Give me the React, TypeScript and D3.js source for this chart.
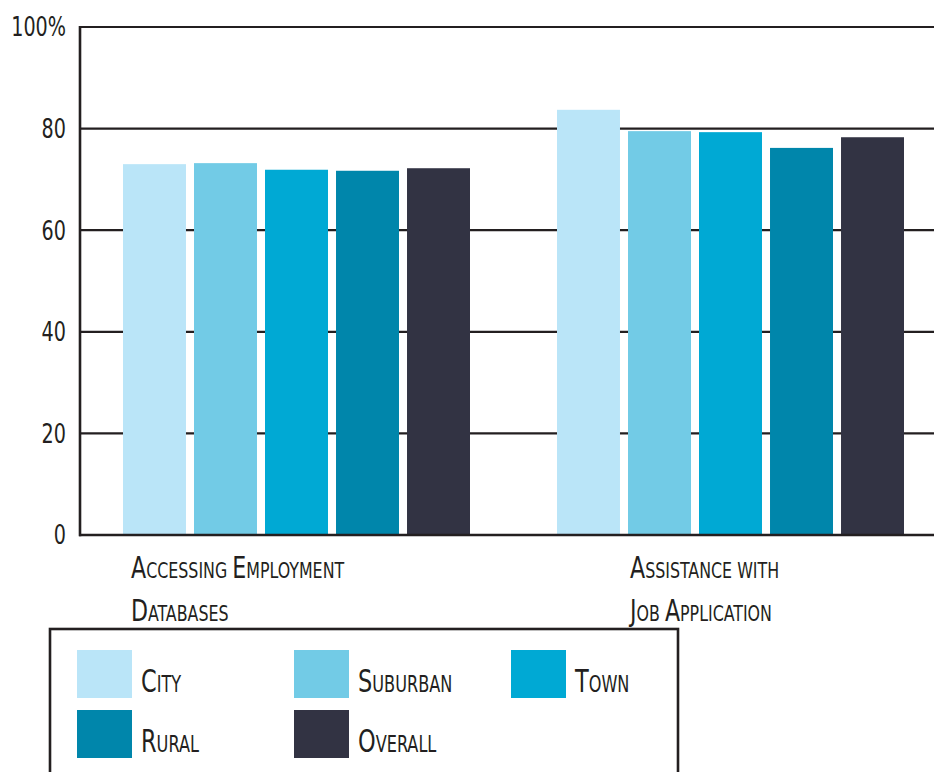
import React from "react";
import * as d3 from "d3";

const categories = ["Accessing Employment|Databases", "Assistance with|Job Application"];
const seriesNames = ["City", "Suburban", "Town", "Rural", "Overall"];
const seriesColors = ["#bae5f8", "#72cbe6", "#00a9d4", "#0086ab", "#323343"];
const cityValues = [73.0, 83.7];
const suburbanValues = [73.2, 79.5];
const townValues = [71.9, 79.3];
const ruralValues = [71.7, 76.2];
const overallValues = [72.2, 78.3];
const seriesValues = [cityValues, suburbanValues, townValues, ruralValues, overallValues];
const yTicks = [0, 20, 40, 60, 80, 100];

const W = 934;
const H = 772;
const INK = "#231f20";
const FONT = "'Liberation Sans Narrow', 'DejaVu Sans Condensed', 'Open Sans', sans-serif";

function SmallCaps({ text, x, y, big, small, sx }: { text: string; x: number; y: number; big: number; small: number; sx: number }) {
  const runs: { s: string; up: boolean }[] = [];
  for (const ch of text) {
    const isSpace = ch === " ";
    const up = !isSpace && ch === ch.toUpperCase() && ch !== ch.toLowerCase();
    const last = runs[runs.length - 1];
    const kind = isSpace ? (last ? last.up : false) : up;
    if (last && last.up === kind) last.s += ch;
    else runs.push({ s: ch, up: kind });
  }
  return (
    <text transform={`translate(${x},${y}) scale(${sx},1)`} fontFamily={FONT} fill={INK}>
      {runs.map((r, i) => (
        <tspan key={i} fontSize={r.up ? big : small}>
          {r.s.toUpperCase()}
        </tspan>
      ))}
    </text>
  );
}

export default function App() {
  const y = d3.scaleLinear().domain([0, 100]).range([535, 27]);
  const x0 = d3.scaleBand<string>().domain(categories).range([80, 948]).paddingInner(0).paddingOuter(0);
  const x1 = d3.scaleBand<string>().domain(seriesNames).range([43, 390]).paddingInner(0.113).paddingOuter(0);
  const labelOffsets = [51, 116];

  const legendCols = 3;
  const legendX = d3.scaleLinear().domain([0, 1]).range([77, 294]);
  const legendY = d3.scaleLinear().domain([0, 1]).range([650, 710]);

  return (
    <svg width={W} height={H} style={{ position: "absolute", left: 0, top: 0, background: "#fff" }}>
      {/* gridlines */}
      {yTicks.map((t) => (
        <line key={"g" + t} x1={80} x2={W} y1={y(t)} y2={y(t)} stroke={INK} strokeWidth={2.2} />
      ))}
      {/* bars */}
      {categories.map((c, ci) => (
        <g key={c} transform={`translate(${x0(c)},0)`}>
          {seriesNames.map((s, si) => (
            <rect
              key={s}
              x={x1(s)}
              y={y(seriesValues[si][ci])}
              width={x1.bandwidth()}
              height={y(0) - y(seriesValues[si][ci])}
              fill={seriesColors[si]}
            />
          ))}
        </g>
      ))}
      {/* axes */}
      <line x1={80} x2={80} y1={y(100) - 1} y2={y(0) + 1.2} stroke={INK} strokeWidth={2.6} />
      <line x1={79} x2={W} y1={y(0)} y2={y(0)} stroke={INK} strokeWidth={2.6} />
      {yTicks.map((t) => (
        <text
          key={"t" + t}
          transform={`translate(66,${y(t)}) scale(0.82,1)`}
          dy="0.36em"
          textAnchor="end"
          fontFamily={FONT}
          fontSize={26}
          fill={INK}
        >
          {t === 100 ? "100%" : String(t)}
        </text>
      ))}
      {/* category labels */}
      {categories.map((c, ci) =>
        c.split("|").map((line, li) => (
          <SmallCaps
            key={c + li}
            text={line}
            x={(x0(c) as number) + labelOffsets[ci]}
            y={578 + li * 43}
            big={30}
            small={21.5}
            sx={0.82}
          />
        ))
      )}
      {/* legend */}
      <rect x={50} y={629} width={628} height={200} fill="none" stroke={INK} strokeWidth={2.6} />
      {seriesNames.map((s, i) => {
        const col = i % legendCols;
        const row = Math.floor(i / legendCols);
        const lx = legendX(col);
        const ly = legendY(row);
        return (
          <g key={"l" + s}>
            <rect x={lx} y={ly} width={55} height={48} fill={seriesColors[i]} />
            <SmallCaps text={s} x={lx + 64} y={ly + 42} big={32} small={23} sx={0.78} />
          </g>
        );
      })}
    </svg>
  );
}
